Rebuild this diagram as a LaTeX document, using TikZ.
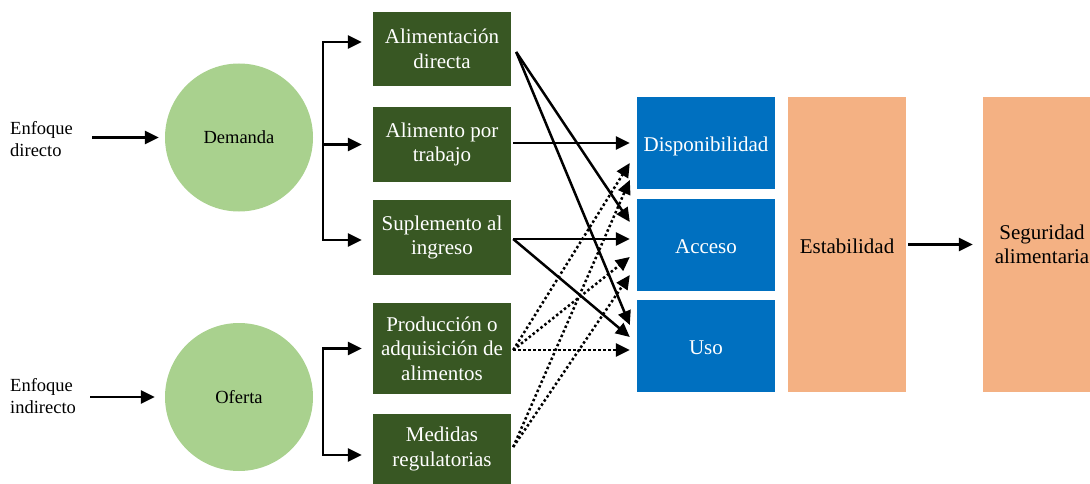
\documentclass[tikz,border=0pt]{standalone}
\usepackage{fontspec}
\setmainfont{Liberation Serif}
\definecolor{LeafGreen}{HTML}{A9D18E}
\definecolor{DarkGreen}{HTML}{385723}
\definecolor{DimBlue}{HTML}{0070C0}
\definecolor{Peach}{HTML}{F4B183}
\usetikzlibrary{arrows.meta}

\begin{document}
\begin{tikzpicture}[x=1pt,y=-1pt,
    circ/.style={circle,fill=LeafGreen,minimum size=148pt,inner sep=0pt,
                 font=\fontsize{18.5}{22}\selectfont},
    lbl/.style={anchor=west,align=left,inner sep=0pt,font=\fontsize{18.5}{22}\selectfont},
    act/.style={fill=DarkGreen,text=white,minimum width=138pt,align=center,inner sep=0pt,
                font=\fontsize{21}{24.5}\selectfont},
    dim/.style={fill=DimBlue,text=white,minimum width=138pt,minimum height=92pt,inner sep=0pt,
                font=\fontsize{21}{24}\selectfont},
    col/.style={fill=Peach,minimum width=118pt,minimum height=295pt,align=center,inner sep=0pt,
                font=\fontsize{21}{24}\selectfont},
    arr/.style={-{Triangle[length=14pt,width=13pt]},line width=2.5pt},
    dotarr/.style={arr,dash pattern=on 2.5pt off 2.5pt}]
    \useasboundingbox (0,0) rectangle (1090,484);
    \clip (0,0) rectangle (1090,484);

    \node[lbl] (ed) at (10,139) {Enfoque\\directo};
    \node[lbl] (ei) at (10,396) {Enfoque\\indirecto};
    \node[circ] (dem) at (239,137.5) {Demanda};
    \node[circ] (ofe) at (239,397) {Oferta};
    \draw[arr,shorten <=19pt,shorten >=6pt] (ed.east |- dem.west) -- (dem.west);
    \draw[arr,shorten <=14pt,shorten >=10pt] (ei.east |- ofe.west) -- (ofe.west);

    \node[act,minimum height=74pt] (ad)  at (442,49)    {Alimentación\\directa};
    \node[act,minimum height=75pt] (apt) at (442,144.5) {Alimento por\\trabajo};
    \node[act,minimum height=75pt] (sup) at (442,237.5) {Suplemento al\\ingreso};
    \node[act,minimum height=91pt] (pro) at (442,348.5) {Producción o\\adquisición de\\alimentos};
    \node[act,minimum height=70pt] (med) at (442,449)   {Medidas\\regulatorias};

    % brackets
    \coordinate (dbr) at (323,144.5);
    \coordinate (obr) at (323,400);
    \draw[arr,shorten >=11pt] (dbr) |- ([yshift=7pt]ad.west);
    \draw[arr,shorten >=11pt] (dbr) -- (apt.west);
    \draw[arr,shorten >=11pt] (dbr) |- ([yshift=-2.5pt]sup.west);
    \draw[arr,shorten >=11pt] (obr) |- (pro.west);
    \draw[arr,shorten >=11pt] (obr) |- ([yshift=-6pt]med.west);

    \node[dim] (disp) at (706,143) {\raisebox{-3pt}[\height][\depth]{Disponibilidad}};
    \node[dim] (acc)  at (706,245) {\raisebox{-2pt}[\height][\depth]{Acceso}};
    \node[dim] (uso)  at (706,346) {\raisebox{-2pt}[\height][\depth]{Uso}};

    % solid links
    \draw[arr] ([xshift=5pt,yshift=-3pt]ad.east) -- ([xshift=-7pt,yshift=23pt]acc.west);
    \draw[arr] ([xshift=5pt,yshift=-3pt]ad.east) -- ([xshift=-7pt,yshift=21pt]uso.west);
    \draw[arr] ([xshift=2pt]apt.east |- disp.west) -- ([xshift=-7pt]disp.west);
    \draw[arr] ([xshift=2pt,yshift=-1.5pt]sup.east) -- ([xshift=-7pt,yshift=6pt]acc.west);
    \draw[arr] ([xshift=2pt,yshift=-1.5pt]sup.east) -- ([xshift=-7pt,yshift=9pt]uso.west);
    % dotted links
    \draw[dotarr] ([xshift=2pt,yshift=-1.5pt]pro.east) -- ([xshift=-7pt,yshift=-20pt]disp.west);
    \draw[dotarr] ([xshift=2pt,yshift=-1.5pt]pro.east) -- ([xshift=-7pt,yshift=-12pt]acc.west);
    \draw[dotarr] ([xshift=2pt,yshift=-1.5pt]pro.east) -- ([xshift=-7pt,yshift=-4pt]uso.west);
    \draw[dotarr] ([xshift=2pt,yshift=2pt]med.east) -- ([xshift=-7pt,yshift=-37pt]disp.west);
    \draw[dotarr] ([xshift=2pt,yshift=2pt]med.east) -- ([xshift=-7pt,yshift=-30pt]acc.west);

    \node[col] (est) at (847,244.5)  {\raisebox{-2pt}[\height][\depth]{Estabilidad}};
    \node[col] (seg) at (1042,244.5) {Seguridad\\alimentaria};
    \draw[arr,shorten <=2pt,shorten >=10pt] (est) -- (seg);
  \end{tikzpicture}
\end{document}
